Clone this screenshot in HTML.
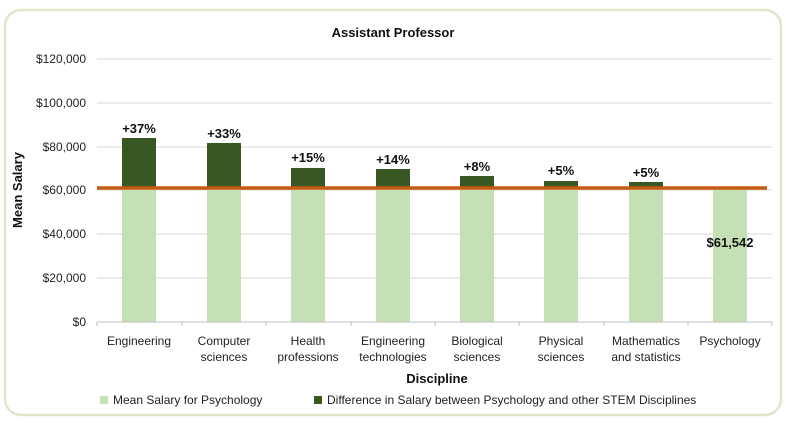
<!DOCTYPE html>
<html><head><meta charset="utf-8"><style>
body{margin:0;background:#fff;}
svg{display:block;font-family:"Liberation Sans",sans-serif;}
</style></head><body>
<svg width="786" height="423" viewBox="0 0 786 423">
<rect x="5" y="10" width="776" height="405" rx="16" fill="#fff" stroke="#dfe6cc" stroke-width="2.5"/>
<text x="393" y="37" font-size="13" font-weight="bold" text-anchor="middle" fill="#111">Assistant Professor</text>
<g stroke="#d9d9d9" stroke-width="1">
<line x1="97" y1="59" x2="772" y2="59"/><line x1="97" y1="103" x2="772" y2="103"/>
<line x1="97" y1="147" x2="772" y2="147"/><line x1="97" y1="190" x2="772" y2="190"/>
<line x1="97" y1="234" x2="772" y2="234"/><line x1="97" y1="278" x2="772" y2="278"/>
</g>
<g font-size="12" fill="#222" text-anchor="end">
<text x="86" y="63">$120,000</text><text x="86" y="107">$100,000</text>
<text x="86" y="151">$80,000</text><text x="86" y="194">$60,000</text>
<text x="86" y="238">$40,000</text><text x="86" y="282">$20,000</text>
<text x="86" y="326">$0</text>
</g>
<text transform="translate(22,190) rotate(-90)" font-size="13" font-weight="bold" text-anchor="middle" fill="#111">Mean Salary</text>
<g fill="#c5e0b4">
<rect x="122" y="188" width="34" height="134"/><rect x="207" y="188" width="34" height="134"/>
<rect x="291" y="188" width="34" height="134"/><rect x="376" y="188" width="34" height="134"/>
<rect x="460" y="188" width="34" height="134"/><rect x="544" y="188" width="34" height="134"/>
<rect x="629" y="188" width="34" height="134"/><rect x="713" y="188" width="34" height="134"/>
</g>
<g fill="#385723">
<rect x="122" y="138" width="34" height="50"/><rect x="207" y="143" width="34" height="45"/>
<rect x="291" y="168" width="34" height="20"/><rect x="376" y="169" width="34" height="19"/>
<rect x="460" y="176" width="34" height="12"/><rect x="544" y="181" width="34" height="7"/>
<rect x="629" y="182" width="34" height="6"/>
</g>
<line x1="97" y1="188" x2="767" y2="188" stroke="#c55a11" stroke-width="3.5"/>
<line x1="97" y1="322" x2="772" y2="322" stroke="#bfbfbf"/>
<g stroke="#bfbfbf"><line x1="97" y1="322" x2="97" y2="326"/><line x1="182" y1="322" x2="182" y2="326"/><line x1="266" y1="322" x2="266" y2="326"/><line x1="351" y1="322" x2="351" y2="326"/><line x1="435" y1="322" x2="435" y2="326"/><line x1="519" y1="322" x2="519" y2="326"/><line x1="604" y1="322" x2="604" y2="326"/><line x1="688" y1="322" x2="688" y2="326"/><line x1="772" y1="322" x2="772" y2="326"/></g>
<g font-size="13" font-weight="bold" fill="#111" text-anchor="middle">
<text x="139" y="133">+37%</text><text x="224" y="138">+33%</text>
<text x="308" y="162">+15%</text><text x="393" y="164">+14%</text>
<text x="477" y="171">+8%</text><text x="561" y="175">+5%</text>
<text x="646" y="177">+5%</text><text x="730" y="247">$61,542</text>
</g>
<g font-size="12" fill="#222" text-anchor="middle">
<text x="139" y="345">Engineering</text>
<text x="224" y="345">Computer</text><text x="224" y="361">sciences</text>
<text x="308" y="345">Health</text><text x="308" y="361">professions</text>
<text x="393" y="345">Engineering</text><text x="393" y="361">technologies</text>
<text x="477" y="345">Biological</text><text x="477" y="361">sciences</text>
<text x="561" y="345">Physical</text><text x="561" y="361">sciences</text>
<text x="646" y="345">Mathematics</text><text x="646" y="361">and statistics</text>
<text x="730" y="345">Psychology</text>
</g>
<text x="437" y="383" font-size="13" font-weight="bold" text-anchor="middle" fill="#111">Discipline</text>
<rect x="100" y="396" width="8" height="8" fill="#c5e0b4"/>
<text x="113" y="404" font-size="12" fill="#222">Mean Salary for Psychology</text>
<rect x="314" y="396" width="8" height="8" fill="#385723"/>
<text x="327" y="404" font-size="12" fill="#222">Difference in Salary between Psychology and other STEM Disciplines</text>
</svg>
</body></html>
